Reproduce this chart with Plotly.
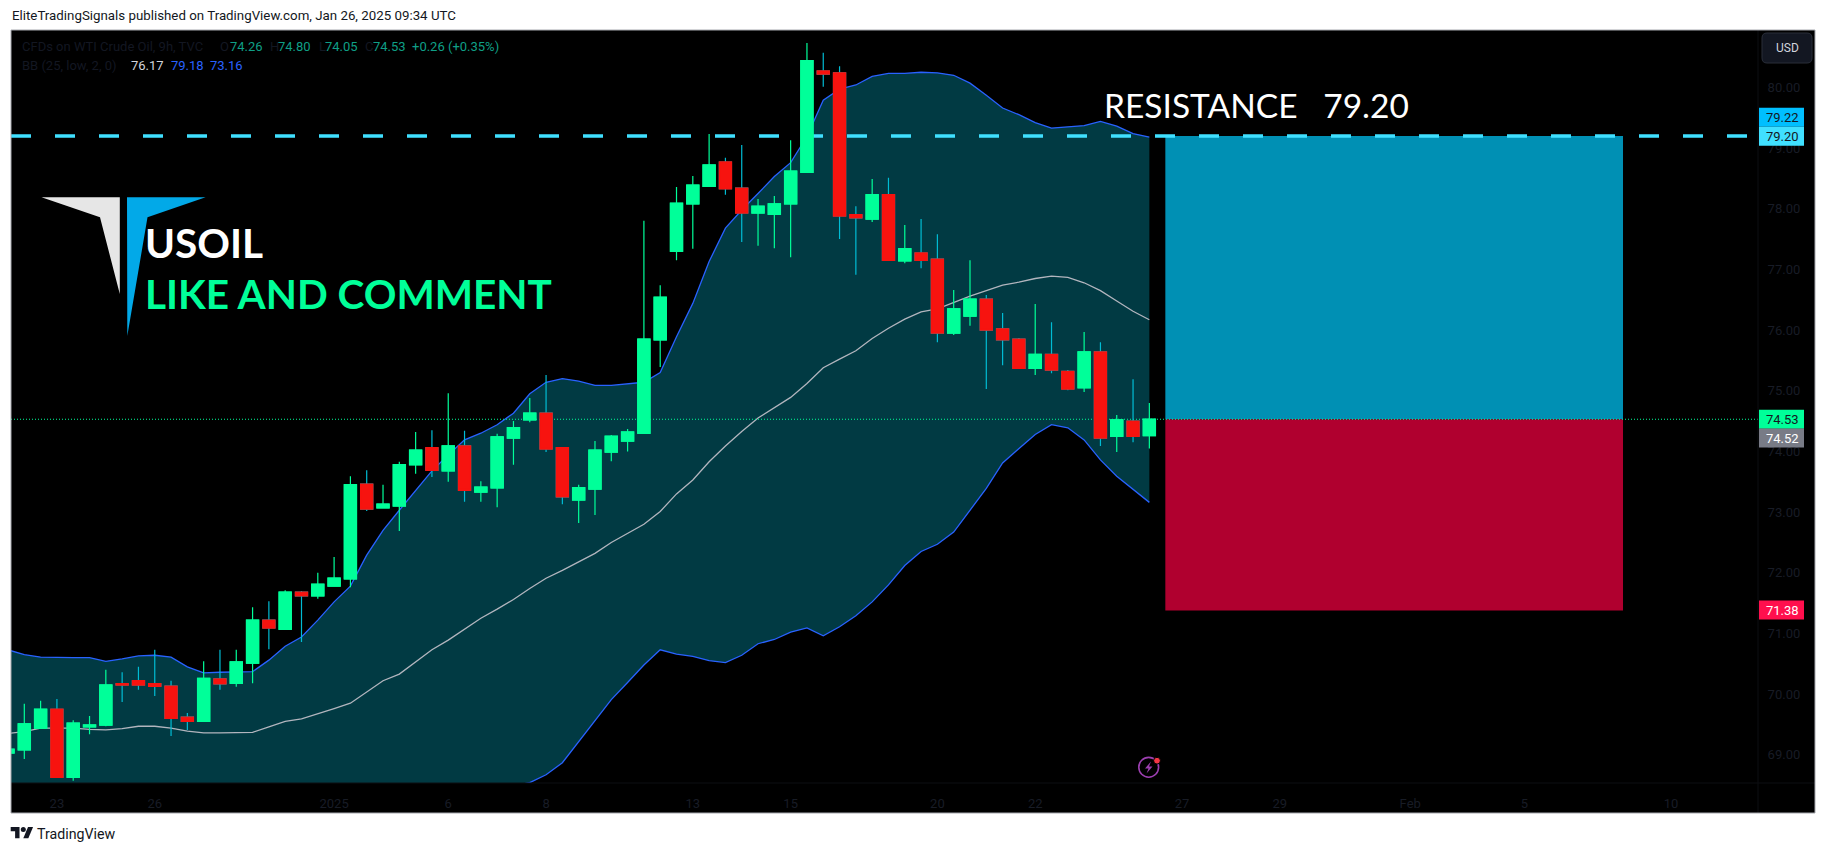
import plotly.graph_objects as go

W, H = 1826, 853

# ---------------- data ----------------
opens = [69.03,69.08,69.44,69.75,68.63,69.46,69.49,70.17,70.22,70.17,70.13,69.62,69.55,70.25,70.18,70.51,71.22,71.07,71.68,71.62,71.78,71.90,73.46,73.07,73.10,73.78,74.06,73.68,74.09,73.33,73.40,74.22,74.52,74.63,74.06,73.20,73.38,73.99,74.17,74.30,75.84,77.30,78.08,78.37,78.77,78.34,77.93,77.91,78.08,78.60,80.27,80.24,77.90,77.83,78.23,77.14,77.27,77.17,75.95,76.23,76.51,76.02,75.85,75.37,75.60,75.32,75.05,75.64,74.25,74.50,74.26]
highs = [69.15,69.84,69.89,69.92,69.57,69.64,70.40,70.36,70.45,70.73,70.22,69.69,70.54,70.73,70.73,71.43,71.53,71.71,71.70,72.00,72.26,73.59,73.69,73.45,73.83,74.32,74.35,74.96,74.34,73.51,74.29,74.50,74.88,75.26,74.07,73.45,74.17,74.27,74.37,77.80,76.74,78.36,78.54,79.23,78.84,79.05,78.16,78.21,79.13,80.73,80.57,80.35,78.04,78.49,78.51,77.73,77.83,77.58,76.66,77.15,76.58,76.28,75.87,76.43,76.13,75.34,75.97,75.80,74.60,75.19,74.80]
lows = [68.98,68.93,69.44,68.62,68.57,69.34,69.47,69.87,70.07,69.97,69.31,69.41,69.55,70.07,70.12,70.18,70.74,71.06,70.86,71.57,71.78,71.76,73.02,73.07,72.69,73.63,73.58,73.50,73.17,73.17,73.08,73.78,74.48,73.99,73.13,72.82,72.95,73.84,74.00,74.30,75.39,77.15,77.34,78.37,78.23,77.45,77.39,77.35,77.20,78.59,80.01,77.50,76.91,77.78,77.15,77.10,77.02,75.80,75.92,76.07,75.03,75.42,75.36,75.26,75.29,75.01,74.98,74.09,73.99,74.15,74.05]
closes = [69.09,69.51,69.75,68.63,69.52,69.49,70.15,70.15,70.15,70.13,69.60,69.55,70.26,70.17,70.53,71.22,71.09,71.68,71.62,71.81,71.91,73.45,73.05,73.13,73.78,74.02,73.69,74.09,73.36,73.41,74.24,74.39,74.63,74.04,73.25,73.40,74.02,74.25,74.32,75.85,76.54,78.09,78.39,78.72,78.33,77.93,78.04,78.08,78.62,80.44,80.22,77.88,77.85,78.23,77.15,77.34,77.15,75.95,76.35,76.51,76.00,75.84,75.37,75.60,75.34,75.03,75.64,74.22,74.52,74.25,74.53]
bb_upper = [70.73,70.65,70.61,70.60,70.60,70.60,70.54,70.58,70.63,70.64,70.61,70.45,70.35,70.36,70.36,70.37,70.56,70.79,70.94,71.22,71.52,71.78,72.29,72.70,73.03,73.36,73.68,73.94,74.19,74.30,74.44,74.63,74.95,75.14,75.20,75.16,75.09,75.09,75.11,75.14,75.30,75.89,76.44,77.13,77.68,77.98,78.25,78.53,78.76,79.19,79.79,79.97,80.04,80.18,80.23,80.23,80.25,80.24,80.20,80.07,79.87,79.66,79.55,79.42,79.33,79.35,79.37,79.44,79.36,79.24,79.18]
bb_mid = [69.35,69.38,69.44,69.44,69.44,69.42,69.41,69.43,69.47,69.47,69.44,69.39,69.36,69.36,69.37,69.37,69.46,69.55,69.59,69.67,69.76,69.85,70.04,70.22,70.33,70.53,70.73,70.89,71.07,71.25,71.40,71.56,71.74,71.91,72.04,72.18,72.32,72.50,72.65,72.80,73.01,73.30,73.53,73.83,74.09,74.33,74.55,74.72,74.89,75.12,75.38,75.52,75.66,75.86,76.03,76.18,76.30,76.35,76.46,76.56,76.65,76.74,76.79,76.85,76.89,76.87,76.78,76.65,76.48,76.31,76.17]
bb_lower = [67.97,68.11,68.26,68.27,68.27,68.25,68.28,68.28,68.30,68.30,68.27,68.34,68.38,68.37,68.38,68.37,68.36,68.31,68.25,68.12,68.00,67.92,67.79,67.74,67.62,67.70,67.78,67.84,67.95,68.19,68.36,68.49,68.54,68.67,68.87,69.22,69.57,69.91,70.19,70.48,70.73,70.66,70.62,70.55,70.52,70.64,70.83,70.90,71.02,71.09,70.96,71.11,71.29,71.52,71.80,72.12,72.35,72.47,72.67,73.03,73.39,73.81,74.05,74.28,74.44,74.39,74.19,73.86,73.59,73.38,73.16]
time_ticks = [3, 9, 20, 27, 33, 42, 48, 57, 63, 72, 78, 86, 93, 102]
time_labels = ["23", "26", "2025", "6", "8", "13", "15", "20", "22", "27", "29", "Feb", "5", "10"]
price_ticks = [69, 70, 71, 72, 73, 74, 75, 76, 77, 78, 79, 80]
resistance = 79.20
last_price = 74.53
stop_price = 71.38
box_start, box_end = 70.98, 99.05
candle_index = list(range(len(opens)))

# ---------------- styles ----------------
GREEN, RED = "#00ff99", "#f7130f"
WICK_DOWN = "#00bcd4"
BAND_FILL = "#013a43"
BB_BLUE = "#2962ff"
DIM = "#181c26"
CYAN = "#40e0ff"
FONT = "Roboto"
BIG = "Lato"
L, T, R, B = 11, 30, 1758, 783   # pane
RR, BB = 1815, 813               # outer frame

def px(x):
    return x / W
def py(y):
    return 1 - y / H
def P(x, y):
    return f"{px(x):.6f},{py(y):.6f}"
def poly(points):
    return "M" + " L".join(P(*p) for p in points) + " Z"

x_range = [(L - 8) / 16.305, (R - 8) / 16.305]
y_top = 80 + (87.4 - T) / 60.67
y_bot = 80 - (B - 87.4) / 60.67

fig = go.Figure()

# Bollinger band
fig.add_trace(go.Scatter(x=candle_index, y=bb_upper, mode="lines", line=dict(color=BB_BLUE, width=1.3), hoverinfo="skip"))
fig.add_trace(go.Scatter(x=candle_index, y=bb_lower, mode="lines", line=dict(color=BB_BLUE, width=1.3),
                         fill="tonexty", fillcolor=BAND_FILL, hoverinfo="skip"))
fig.add_trace(go.Scatter(x=candle_index, y=bb_mid, mode="lines", line=dict(color="#b2b5be", width=1.3), hoverinfo="skip"))

# Level lines
fig.add_trace(go.Scatter(x=x_range, y=[resistance, resistance], mode="lines",
                         line=dict(color=CYAN, width=3.5, dash="20px,24px"), hoverinfo="skip"))
fig.add_trace(go.Scatter(x=x_range, y=[last_price, last_price], mode="lines",
                         line=dict(color=GREEN, width=1, dash="1px,2px"), hoverinfo="skip"))

# Wicks (on overlaying axes so the candles stay above the band fill)
fig.add_trace(go.Candlestick(x=candle_index, open=opens, high=highs, low=lows, close=closes,
                             xaxis="x2", yaxis="y2",
                             increasing=dict(line=dict(color=GREEN, width=1.2), fillcolor=GREEN),
                             decreasing=dict(line=dict(color=WICK_DOWN, width=1.2), fillcolor=RED),
                             whiskerwidth=0, hoverinfo="skip"))
# Bodies, same outline width so that they cover the outline of the wick trace
body_high = [max(a, b) for a, b in zip(opens, closes)]
body_low = [min(a, b) for a, b in zip(opens, closes)]
fig.add_trace(go.Candlestick(x=candle_index, open=opens, high=body_high, low=body_low, close=closes,
                             xaxis="x2", yaxis="y2",
                             increasing=dict(line=dict(color=GREEN, width=1.4), fillcolor=GREEN),
                             decreasing=dict(line=dict(color=RED, width=1.4), fillcolor=RED),
                             whiskerwidth=0, hoverinfo="skip"))

shapes = [
    dict(type="rect", xref="paper", yref="paper", x0=px(L), x1=px(RR), y0=py(BB), y1=py(T),
         fillcolor="#000000", line_width=0, layer="below"),
    dict(type="rect", xref="x", yref="y", x0=box_start, x1=box_end, y0=last_price, y1=resistance,
         fillcolor="#0090b4", line_width=0, layer="below"),
    dict(type="rect", xref="x", yref="y", x0=box_start, x1=box_end, y0=stop_price, y1=last_price,
         fillcolor="#b0002f", line_width=0, layer="below"),
    # separators of the axes
    dict(type="line", xref="paper", yref="paper", x0=px(R), x1=px(R), y0=py(BB), y1=py(T),
         line=dict(color="#0c0e13", width=1)),
    dict(type="line", xref="paper", yref="paper", x0=px(L), x1=px(RR), y0=py(B), y1=py(B),
         line=dict(color="#0c0e13", width=1)),
    # frame
    dict(type="rect", xref="paper", yref="paper", x0=px(L), x1=px(RR), y0=py(BB), y1=py(T),
         fillcolor="rgba(0,0,0,0)", line=dict(color="#a6a8ae", width=1)),
    # logo
    dict(type="path", xref="paper", yref="paper",
         path=poly([(41.5, 197.3), (119.8, 197.3), (119.8, 294), (100, 217.3)]), fillcolor="#e6e6e6", line_width=0),
    dict(type="path", xref="paper", yref="paper",
         path=poly([(127, 197.3), (205.6, 197.3), (147.5, 217.3), (127.3, 336)]), fillcolor="#02a9e8", line_width=0),
]

# USD button
bx0, bx1, by0, by1, r = 1762, 1812, 33, 63, 5
shapes.append(dict(type="path", xref="paper", yref="paper",
    path=f"M{P(bx0+r,by0)} L{P(bx1-r,by0)} Q{P(bx1,by0)} {P(bx1,by0+r)} L{P(bx1,by1-r)} Q{P(bx1,by1)} {P(bx1-r,by1)} "
         f"L{P(bx0+r,by1)} Q{P(bx0,by1)} {P(bx0,by1-r)} L{P(bx0,by0+r)} Q{P(bx0,by0)} {P(bx0+r,by0)} Z",
    fillcolor="#131722", line=dict(color="#2a2e39", width=1)))

# price labels on the axis
price_boxes = [("79.22", 117.3, "#00bfff", "#131722"), ("79.20", 136.3, CYAN, "#131722"),
               ("74.53", 419.3, GREEN, "#131722"), ("74.52", 438.0, "#787b86", "#ffffff"),
               ("71.38", 610.0, "#ff0f4d", "#ffffff")]
annots = []
def text(x, y, s, size=12, color="#131722", family=FONT, anchor="left", weight="normal"):
    annots.append(dict(x=px(x), y=py(y), xref="paper", yref="paper", text=s, showarrow=False,
                       xanchor=anchor, yanchor="middle", borderpad=0,
                       font=dict(family=family, size=size, color=color, weight=weight)))

for label, yc, bg, fg in price_boxes:
    shapes.append(dict(type="rect", xref="paper", yref="paper", x0=px(1759), x1=px(1804),
                       y0=py(yc + 9.5), y1=py(yc - 9.5), fillcolor=bg, line_width=0))
    text(1782, yc, label, size=13, color=fg, anchor="center")

# TradingView mark
def tv(x, y):
    return (10.7 + x * 0.63, 827 + (y - 4) * 0.62)
shapes.append(dict(type="path", xref="paper", yref="paper",
    path=poly([tv(0, 4), tv(14, 4), tv(14, 22), tv(7, 22), tv(7, 11), tv(0, 11)]), fillcolor="#131722", line_width=0))
shapes.append(dict(type="path", xref="paper", yref="paper",
    path=poly([tv(27.5, 4), tv(35.5, 4), tv(28, 22), tv(20, 22)]), fillcolor="#131722", line_width=0))
cx, cy = tv(20, 8)
shapes.append(dict(type="circle", xref="paper", yref="paper", x0=px(cx-2.5), x1=px(cx+2.5), y0=py(cy+2.5), y1=py(cy-2.5),
                   fillcolor="#131722", line_width=0))

# lightning mark
shapes.append(dict(type="circle", xref="paper", yref="paper", x0=px(1138.8), x1=px(1158.6), y0=py(777.2), y1=py(757.4),
                   fillcolor="rgba(0,0,0,0)", line=dict(color="#9c3fb0", width=1.6)))
shapes.append(dict(type="path", xref="paper", yref="paper",
    path=poly([(1151, 761.5), (1145, 768.5), (1148.5, 768.5), (1146.5, 773.5), (1152.5, 766.5), (1149, 766.5)]),
    fillcolor="#9c3fb0", line_width=0))
shapes.append(dict(type="circle", xref="paper", yref="paper", x0=px(1153.6), x1=px(1160.4), y0=py(764.1), y1=py(757.3),
                   fillcolor="#f23645", line=dict(color="#000000", width=1)))

# texts
text(11, 16, "EliteTradingSignals published on TradingView.com, Jan 26, 2025 09:34 UTC", size=13.3, color="#131722")
text(36, 834, "TradingView", size=14.2, color="#131722")
text(1787, 48, "USD", size=12, color="#d1d4dc", anchor="center")
text(144, 242, "USOIL", size=40.5, color="#ffffff", family=BIG, weight=700)
text(144, 293, "LIKE AND COMMENT", size=40.5, color=GREEN, family=BIG, weight=700)
text(1103, 105.5, "RESISTANCE\u00a0\u00a0\u00a079.20", size=33.5, color="#ffffff", family=BIG)

# indicator legends
TEAL = "#0f9f86"
text(20.5, 46.7, "CFDs on WTI Crude Oil, 9h, TVC", size=13, color="#131722")
for xp, s in [(219, "O"), (269, "H"), (317.5, "L"), (364, "C")]:
    text(xp, 46.7, s, size=13, color="#131722")
for xp, s in [(229, "74.26"), (277, "74.80"), (324, "74.05"), (372, "74.53"), (411, "+0.26 (+0.35%)")]:
    text(xp, 46.7, s, size=13, color=TEAL)
text(20.5, 65.7, "BB (25, low, 2, 0)", size=13, color="#131722")
text(130, 65.7, "76.17", size=13, color="#d1d4dc")
text(170, 65.7, "79.18", size=13, color=BB_BLUE)
text(209, 65.7, "73.16", size=13, color=BB_BLUE)

fig.update_layout(
    width=W, height=H, margin=dict(l=0, r=0, t=0, b=0),
    paper_bgcolor="#ffffff", plot_bgcolor="#000000",
    showlegend=False, hovermode=False, boxgap=0.26, boxgroupgap=0, boxmode="overlay",
    shapes=shapes, annotations=annots,
    xaxis=dict(domain=[px(L), px(R)], range=x_range, showgrid=False, zeroline=False,
               rangeslider=dict(visible=False), tickmode="array", tickvals=time_ticks, ticktext=time_labels,
               ticks="outside", ticklen=8, tickcolor="rgba(0,0,0,0)", showline=False,
               tickfont=dict(family=FONT, size=13, color=DIM)),
    yaxis=dict(domain=[py(B), py(T)], range=[y_bot, y_top], side="right", showgrid=False, zeroline=False,
               tickmode="array", tickvals=price_ticks, tickformat=".2f",
               ticks="outside", ticklen=6, tickcolor="rgba(0,0,0,0)", showline=False,
               tickfont=dict(family=FONT, size=13, color=DIM)),
    xaxis2=dict(domain=[px(L), px(R)], range=x_range, overlaying="x", anchor="y2", visible=False,
                rangeslider=dict(visible=False)),
    yaxis2=dict(domain=[py(B), py(T)], range=[y_bot, y_top], overlaying="y", anchor="x2", visible=False),
)

fig.write_html("out.html", config=dict(displayModeBar=False),
               post_script="document.body.style.margin='0';document.body.style.overflow='hidden';")
